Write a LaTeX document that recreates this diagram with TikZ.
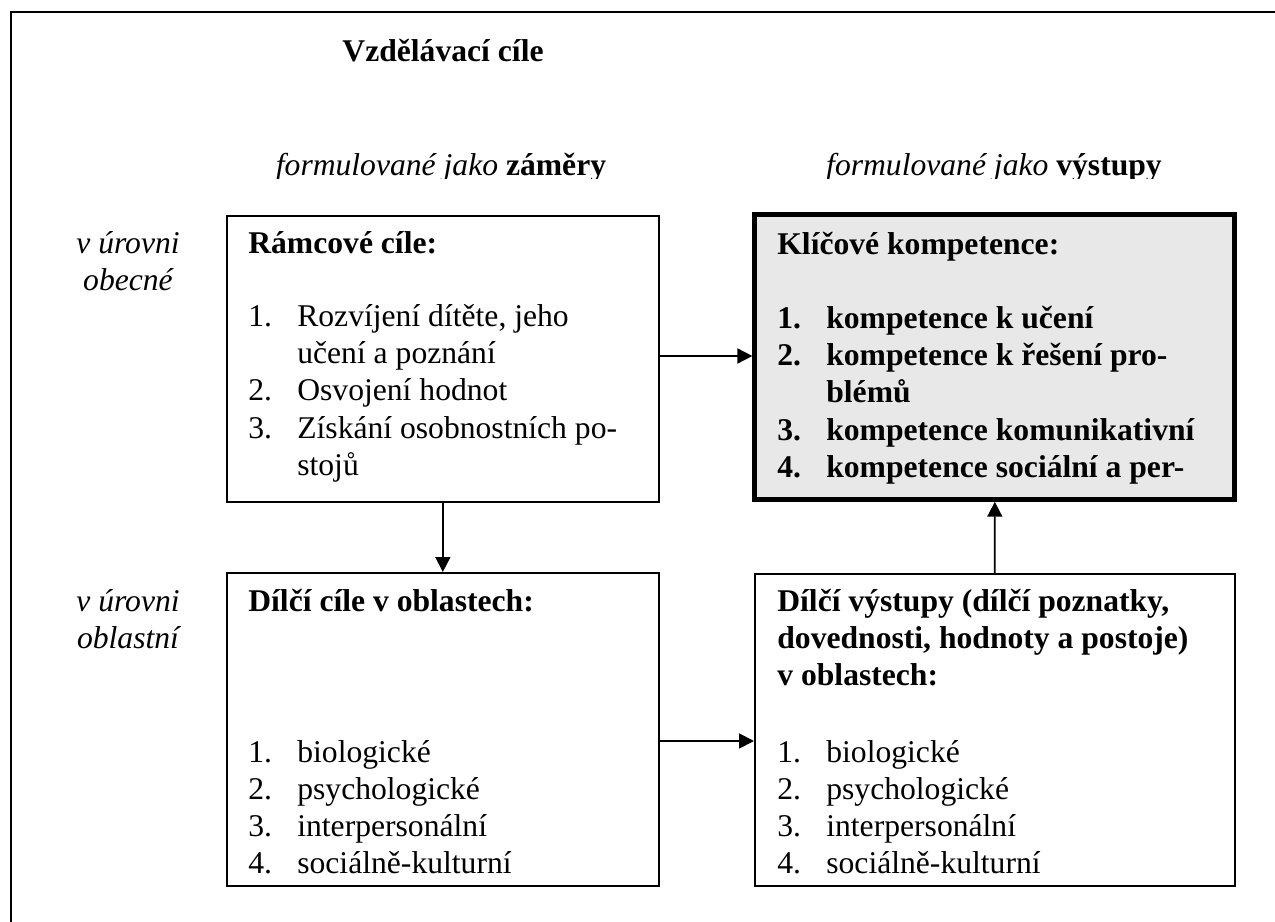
\documentclass[tikz,border=0pt]{standalone}
\usepackage{fontspec}
\setmainfont{Liberation Serif}
\usetikzlibrary{arrows.meta}
\definecolor{kkgray}{RGB}{232,232,232}
\newcommand{\polozka}[2]{\makebox[0.98cm][l]{#1}#2}
\begin{document}
\begin{tikzpicture}[x=0.02cm,y=-0.02cm]
\tikzstyle{box} = [draw,line width=1pt,inner sep=0,anchor=north west];
\tikzstyle{keybox} = [draw,line width=2.8pt,fill=kkgray,inner sep=0,anchor=north west];
\tikzstyle{txt} = [font=\fontsize{18}{21.06}\selectfont,inner sep=0,align=left,anchor=base west];
\tikzstyle{head} = [txt,font=\fontsize{18}{21.06}\selectfont\bfseries];
\tikzstyle{level} = [txt,font=\fontsize{18}{21.06}\selectfont\itshape,align=center,anchor=base];
\tikzstyle{arr} = [line width=1pt,-{Triangle[length=8.5pt,width=8.5pt]}];
\useasboundingbox (0,0) rectangle (1275,922);
\draw [line width=1.1pt] (11,922) -- (11,12) -- (1275,12);

% multi-line texts are placed by the baseline of their last line
\node [head,anchor=base] (title) at (443,62) {Vzdělávací cíle};
\begin{scope}
\clip (0,0) rectangle (1275,179);
\node [txt,anchor=base] (zamery) at (441,176) {\textit{formulované jako} \textbf{záměry}};
\node [txt,anchor=base] (vystupy) at (994,176) {\textit{formulované jako} \textbf{výstupy}};
\end{scope}
\node [level] (obecne) at (128,291) {v úrovni\\obecné};
\node [level] (oblastni) at (128,648) {v úrovni\\oblastní};

% boxes
\node [box,minimum width=8.64cm,minimum height=5.72cm] (ra) at (226,215) {};
\node [keybox,minimum width=9.6cm,minimum height=5.69cm] (kk) at (752.4,212.4) {};
\node [box,minimum width=8.64cm,minimum height=6.26cm] (dc) at (226,572) {};
\node [box,minimum width=9.6cm,minimum height=6.24cm] (dv) at (754,573) {};

\node [head] (ra-head) at (248,254) {Rámcové cíle:};
\node [txt] (ra-list) at (248,475) {\polozka{1.}{Rozvíjení dítěte, jeho}\\\polozka{}{učení a poznání}\\\polozka{2.}{Osvojení hodnot}\\\polozka{3.}{Získání osobnostních po-}\\\polozka{}{stojů}};
\node [head] (kk-head) at (777,255) {Klíčové kompetence:};
\node [head] (kk-list) at (777,477) {\polozka{1.}{kompetence k učení}\\\polozka{2.}{kompetence k řešení pro-}\\\polozka{}{blémů}\\\polozka{3.}{kompetence komunikativní}\\\polozka{4.}{kompetence sociální a per-}};
\node [head] (dc-head) at (248,611) {Dílčí cíle v oblastech:};
\node [txt] (dc-list) at (248,873) {\polozka{1.}{biologické}\\\polozka{2.}{psychologické}\\\polozka{3.}{interpersonální}\\\polozka{4.}{sociálně-kulturní}};
\node [head] (dv-head) at (777,685) {Dílčí výstupy (dílčí poznatky,\\dovednosti, hodnoty a postoje)\\v oblastech:};
\node [txt] (dv-list) at (777,873) {\polozka{1.}{biologické}\\\polozka{2.}{psychologické}\\\polozka{3.}{interpersonální}\\\polozka{4.}{sociálně-kulturní}};

\coordinate (y-top) at (0,356);
\coordinate (y-bottom) at (0,741);
\draw [arr] (ra.east |- y-top) -- (kk.west |- y-top);
\draw [arr] (ra.south) -- (dc.north);
\draw [arr] (dv.north) -- (kk.south);
\draw [arr] (dc.east |- y-bottom) -- (dv.west |- y-bottom);
\end{tikzpicture}
\end{document}
